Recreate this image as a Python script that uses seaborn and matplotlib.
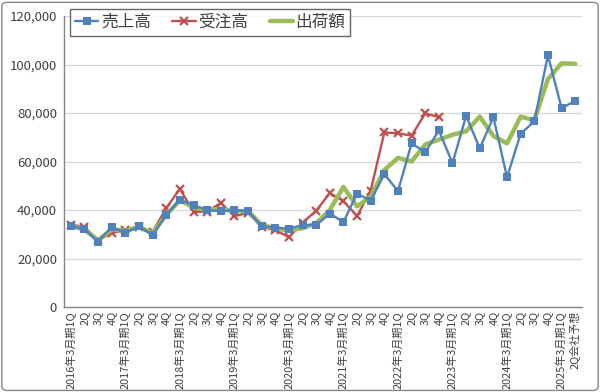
import matplotlib
matplotlib.use("Agg")
import matplotlib.pyplot as plt
import seaborn as sns
import numpy as np
import pandas as pd
from matplotlib.ticker import FuncFormatter
from matplotlib.patches import FancyBboxPatch

sns.set_theme(style="white")
plt.rcParams['font.family'] = ['Noto Sans CJK JP', 'DejaVu Sans']

years = [2016, 2017, 2018, 2019, 2020, 2021, 2022, 2023, 2024, 2025]
quarters = ["1Q", "2Q", "3Q", "4Q"]
categories = []
for y in years:
    for q in quarters:
        if q == "1Q":
            categories.append(f"{y}年3月期1Q")
        else:
            categories.append(q)
categories = categories[:37] + ["2Q会社予想"]

sales = [33500, 32000, 27000, 33000, 30500, 33300, 29500, 38000,
         44200, 42000, 40000, 39500, 40000, 39600, 33300, 32700,
         32300, 33800, 33800, 38500, 35000, 46800, 43800, 54800,
         47800, 67500, 63800, 72800, 59300, 78800, 65400, 78300,
         53500, 71500, 76500, 103800, 82000, 85000]
orders = [34000, 33000, 27500, 30500, 31700, 33000, 31000, 40800,
          48700, 39300, 39300, 42900, 37500, 38800, 33000, 31700,
          28800, 34800, 39700, 47000, 43700, 37500, 48000, 72000,
          71600, 70700, 79800, 78300] + [np.nan] * 10
shipments = [33500, 32000, 27500, 32000, 31500, 33000, 30500, 38000,
             44000, 41000, 40000, 40500, 39500, 39500, 33800, 32500,
             31500, 32500, 34500, 40000, 49500, 41500, 45500, 56500,
             61500, 60000, 67000, 69000, 71000, 72500, 78500, 70500,
             67500, 78500, 77000, 94000, 100500, 100300]

series_names = ["売上高", "受注高", "出荷額"]
colors = ["#4F81BD", "#C0504D", "#9BBB59"]

idx = np.arange(len(categories))
df = pd.DataFrame({"idx": idx, "sales": sales, "orders": orders, "ship": shipments})

fig = plt.figure(figsize=(6.0, 3.92), dpi=100)
ax = fig.add_axes([64/600, 1-307/392, (582-64)/600, (307-16)/392])

sns.lineplot(data=df, x="idx", y="ship", ax=ax, color=colors[2], linewidth=3.2,
             label=series_names[2], zorder=3)
sns.lineplot(data=df, x="idx", y="orders", ax=ax, color=colors[1], linewidth=1.7,
             marker="x", markersize=5.5, markeredgewidth=1.6, markeredgecolor=colors[1],
             label=series_names[1], zorder=2)
sns.lineplot(data=df, x="idx", y="sales", ax=ax, color=colors[0], linewidth=1.7,
             marker="s", markersize=5.5, markeredgewidth=0, label=series_names[0], zorder=4)

ax.set_xlim(-0.5, len(categories) - 0.5)
ax.set_ylim(0, 120000)
ax.set_yticks(np.arange(0, 120001, 20000))
ax.yaxis.set_major_formatter(FuncFormatter(lambda v, p: f"{int(v):,}"))
ax.set_xticks(idx)
ax.set_xticklabels(categories, rotation=90, fontsize=7.9, color="#404040")
ax.tick_params(axis="y", labelsize=9.5, colors="#404040", length=0, pad=5)
ax.tick_params(axis="x", length=0, pad=3)
ax.set_xlabel("")
ax.set_ylabel("")
ax.grid(axis="y", color="#D9D9D9", linewidth=1)
ax.grid(axis="x", visible=False)
for s in ["top", "right"]:
    ax.spines[s].set_visible(False)
for s in ["left", "bottom"]:
    ax.spines[s].set_color("#868686")
    ax.spines[s].set_linewidth(1)

handles, labels = ax.get_legend_handles_labels()
order = [labels.index(n) for n in series_names]
ax.get_legend().remove()
leg = fig.legend([handles[i] for i in order], [labels[i] for i in order],
                 loc="upper left", bbox_to_anchor=(70/600, 1-9/392), ncol=3,
                 fontsize=12, frameon=True, fancybox=False, handlelength=1.4,
                 handletextpad=0.15, columnspacing=1.3, borderpad=0.3, borderaxespad=0)
leg.get_frame().set_edgecolor("#404040")
leg.get_frame().set_linewidth(1.0)
for t in leg.get_texts():
    t.set_color("#404040")

border = FancyBboxPatch((0.003, 0.004), 0.994, 0.99, boxstyle="round,pad=0,rounding_size=0.01",
                        transform=fig.transFigure, fill=False, edgecolor="#868686",
                        linewidth=1.0)
fig.patches.append(border)

fig.savefig("out.png", dpi=100)
